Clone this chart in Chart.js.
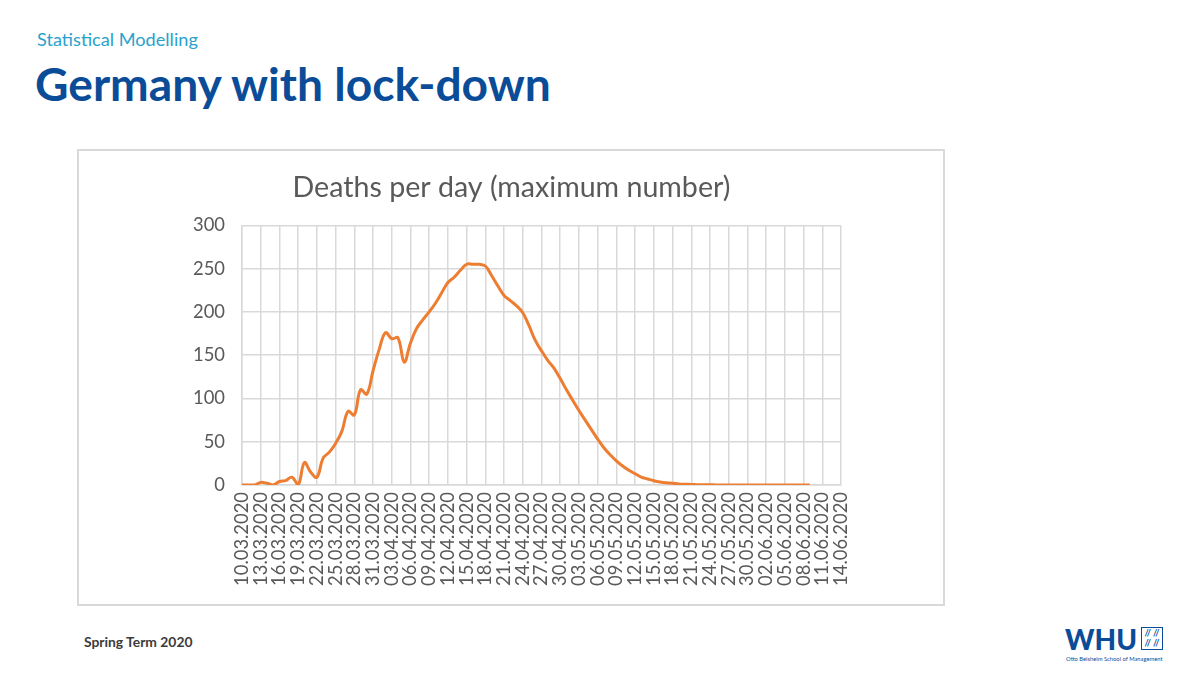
<!DOCTYPE html>
<html>
<head>
<meta charset="utf-8">
<script src="https://cdn.jsdelivr.net/npm/chart.js@4.4.1/dist/chart.umd.min.js"></script>
<style>
    body { margin: 0; width: 1200px; height: 675px; background: #fff; position: relative; overflow: hidden; font-family: Lato, sans-serif; }
    .txt { position: absolute; white-space: nowrap; line-height: 1; }
    #subtitle { left: 37px; color: #2aa2cc; }
    #heading { left: 35px; color: #0b4c98; font-weight: bold; }
    #footer { left: 84px; color: #3b3b3b; font-weight: bold; }
    #whu { left: 1065px; color: #0b4c98; font-weight: 900; }
    #tagline { left: 1066px; color: #0b4c98; }
    #logoBox { position: absolute; left: 1141px; top: 627px; width: 20px; height: 21px; border: 1.5px solid #0b4c98; color: #0b4c98; font-size: 9px; line-height: 10px; text-align: center; font-weight: bold; overflow: hidden; }
    #frame { position: absolute; left: 77px; top: 149px; width: 868px; height: 457px; border: 2px solid #d9d9d9; box-sizing: border-box; }
    #chartWrap { position: absolute; left: 79px; top: 151px; width: 864px; height: 453px; }
</style>
</head>
<body>
<div class="txt" id="subtitle">Statistical Modelling</div>
<div class="txt" id="heading">Germany with lock-down</div>
<div class="txt" id="footer">Spring Term 2020</div>
<div class="txt" id="whu">WHU</div>
<div id="logoBox">// //<br>// //</div>
<div class="txt" id="tagline">Otto Beisheim School of Management</div>
<div id="frame"></div>
<div id="chartWrap"><canvas id="deathsChart" width="864" height="453"></canvas></div>
<script>
const chartTitle = 'Deaths per day (maximum number)';

// labels shown on the x axis (every third day)
const tickLabels = [
    '10.03.2020', '13.03.2020', '16.03.2020', '19.03.2020', '22.03.2020', '25.03.2020',
    '28.03.2020', '31.03.2020', '03.04.2020', '06.04.2020', '09.04.2020', '12.04.2020',
    '15.04.2020', '18.04.2020', '21.04.2020', '24.04.2020', '27.04.2020', '30.04.2020',
    '03.05.2020', '06.05.2020', '09.05.2020', '12.05.2020', '15.05.2020', '18.05.2020',
    '21.05.2020', '24.05.2020', '27.05.2020', '30.05.2020', '02.06.2020', '05.06.2020',
    '08.06.2020', '11.06.2020', '14.06.2020'
];

// deaths per day from 10.03.2020 to 09.06.2020
const deaths = [
    0, 0, 0, 3, 2, 0, 4, 5, 9, 0,
    26, 15, 9, 31, 38, 48, 62, 85, 81, 110,
    105, 132, 157, 176, 169, 170, 142, 164, 181, 191,
    200, 210, 222, 234, 240, 248, 255, 255, 255, 253,
    242, 230, 219, 213, 207, 199, 184, 167, 155, 144,
    135, 123, 110, 98, 86, 75, 64, 53, 43, 35,
    28, 22, 17, 13, 9, 7, 5, 3.5, 2.5, 2,
    1.3, 0.9, 0.6, 0.4, 0.3, 0.2, 0.1, 0, 0, 0,
    0, 0, 0, 0, 0, 0, 0, 0, 0, 0,
    0, 0
];

const yTicks = [0, 50, 100, 150, 200, 250, 300];

function parseDay(s) {
    const [d, m, y] = s.split('.').map(Number);
    return new Date(y, m - 1, d);
}

function formatDay(date) {
    const dd = String(date.getDate()).padStart(2, '0');
    const mm = String(date.getMonth() + 1).padStart(2, '0');
    return `${dd}.${mm}.${date.getFullYear()}`;
}

// every day between the first and the last tick label
function buildDays() {
    const days = [];
    const end = parseDay(tickLabels[tickLabels.length - 1]);
    for (let d = parseDay(tickLabels[0]); d <= end; d.setDate(d.getDate() + 1)) {
        days.push(formatDay(d));
    }
    return days;
}

function fitSize(text, weight, family, width) {
    const ctx = document.createElement('canvas').getContext('2d');
    ctx.font = `${weight} 100px ${family}`;
    return 100 * width / ctx.measureText(text).width;
}

function placeText(id, weight, width, baseline) {
    const el = document.getElementById(id);
    const size = fitSize(el.textContent, weight, 'Lato', width);
    el.style.fontSize = size + 'px';
    el.style.top = (baseline - 0.887 * size) + 'px';
}

placeText('subtitle', 'normal', 161, 46);
placeText('heading', 'bold', 518, 101);
placeText('footer', 'bold', 109, 647);
placeText('whu', '900', 72, 651);
placeText('tagline', 'normal', 97, 661);

const days = buildDays();
const gridColor = '#d9d9d9';
const textColor = '#595959';
const titleSize = fitSize(chartTitle, 'normal', 'Lato', 438);
const tickSize = fitSize('10.03.2020', 'normal', 'Lato', 94);

new Chart(document.getElementById('deathsChart'), {
    type: 'line',
    data: {
        labels: days,
        datasets: [{
            label: 'Deaths',
            data: deaths,
            borderColor: '#ed7d31',
            borderWidth: 3,
            pointRadius: 0,
            tension: 0.4,
            fill: false
        }]
    },
    options: {
        responsive: false,
        animation: false,
        layout: {
            padding: { left: 103, right: 102, top: 0, bottom: 0 }
        },
        plugins: {
            legend: { display: false },
            tooltip: { enabled: false },
            title: {
                display: true,
                text: chartTitle,
                color: textColor,
                font: { family: 'Lato', size: titleSize, weight: 'normal', lineHeight: 1.2 },
                padding: { top: 20, bottom: 20 }
            }
        },
        scales: {
            x: {
                afterFit: (scale) => { scale.height = 119; },
                grid: {
                    drawTicks: false,
                    lineWidth: 1.5,
                    color: (ctx) => tickLabels.includes(days[ctx.index]) ? gridColor : 'rgba(0,0,0,0)'
                },
                border: { color: gridColor, width: 1.5 },
                ticks: {
                    autoSkip: false,
                    minRotation: 90,
                    maxRotation: 90,
                    padding: 7,
                    color: textColor,
                    font: { family: 'Lato', size: tickSize },
                    callback: function (value, index) {
                        const label = days[index];
                        return tickLabels.includes(label) ? label : '';
                    }
                }
            },
            y: {
                min: yTicks[0],
                max: yTicks[yTicks.length - 1],
                afterFit: (scale) => { scale.width = 60; },
                afterBuildTicks: (scale) => { scale.ticks = yTicks.map(v => ({ value: v })); },
                grid: { drawTicks: false, lineWidth: 1.5, color: gridColor },
                border: { color: gridColor, width: 1.5 },
                ticks: {
                    padding: 17,
                    color: textColor,
                    font: { family: 'Lato', size: tickSize }
                }
            }
        }
    }
});
</script>
</body>
</html>
